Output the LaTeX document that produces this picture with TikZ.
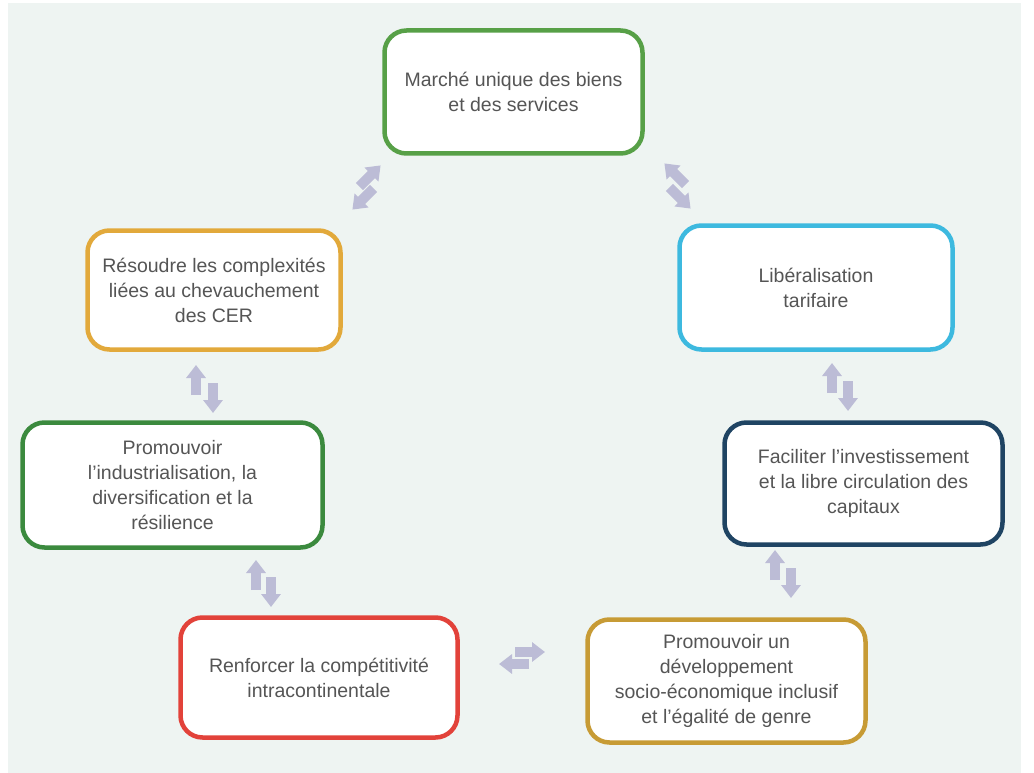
\documentclass[tikz,border=0pt]{standalone}
\usepackage{fontspec}
\setmainfont{Liberation Sans}
\usetikzlibrary{arrows.meta}

\definecolor{bgc}{HTML}{EEF4F2}
\definecolor{txt}{HTML}{555555}
\definecolor{arw}{HTML}{BCBCD6}
\definecolor{cgreen}{HTML}{57A047}
\definecolor{cgold}{HTML}{E2A93B}
\definecolor{ccyan}{HTML}{3DB9DF}
\definecolor{cdgreen}{HTML}{3B8A3E}
\definecolor{cnavy}{HTML}{1F4463}
\definecolor{cred}{HTML}{E2423A}
\definecolor{cbrown}{HTML}{C79B35}

\begin{document}
\begin{tikzpicture}[x=1pt,y=-1pt,
  box/.style={draw=#1, line width=4.5pt, rounded corners=22pt, fill=white,
    align=center, text=txt, inner sep=0pt,
    font=\fontsize{19.5}{25}\selectfont},
  blockarrow/.style={draw=arw, line width=10pt,
    -{Triangle[width=19pt,length=13pt]}}
]
\useasboundingbox (0,0) rectangle (1034,773);
\fill[bgc] (8,3) rectangle (1021,773);

% the seven objectives
\node[box=cgreen, minimum width=258pt, minimum height=123pt] (market) at (513.5,92)
  {Marché unique des biens\\et des services};
\node[box=cgold, minimum width=253pt, minimum height=119pt] (rec) at (214,290)
  {Résoudre les complexités\\liées au chevauchement\\des CER};
\node[box=ccyan, minimum width=273pt, minimum height=124pt] (tariff) at (816,287.5)
  {Libéralisation\\tarifaire};
\node[box=cdgreen, minimum width=300pt, minimum height=125pt] (industry) at (172.5,485)
  {Promouvoir\\l’industrialisation, la\\diversification et la\\résilience};
\node[box=cnavy, minimum width=278pt, minimum height=122pt] (invest) at (863.5,483.5)
  {Faciliter l’investissement\\et la libre circulation des\\capitaux};
\node[box=cred, minimum width=277pt, minimum height=120pt] (compet) at (319,677.5)
  {Renforcer la compétitivité\\intracontinentale};
\node[box=cbrown, minimum width=278pt, minimum height=123pt] (social) at (726.5,681)
  {Promouvoir un\\développement\\socio-économique inclusif\\et l’égalité de genre};

% end points of the two-way links
\coordinate (rm1a) at (359.4,186.6); \coordinate (rm1b) at (380.6,165.4);
\coordinate (rm2a) at (373.6,188.4); \coordinate (rm2b) at (352.4,209.6);
\coordinate (mt1a) at (685.6,184.6); \coordinate (mt1b) at (664.4,163.4);
\coordinate (mt2a) at (669.4,187.4); \coordinate (mt2b) at (690.6,208.6);
\coordinate (ri1a) at (196,395); \coordinate (ri1b) at (196,365);
\coordinate (ri2a) at (213,383); \coordinate (ri2b) at (213,413);
\coordinate (ic1a) at (256,590); \coordinate (ic1b) at (256,560);
\coordinate (ic2a) at (271,577); \coordinate (ic2b) at (271,607);
\coordinate (ti1a) at (832,393); \coordinate (ti1b) at (832,363);
\coordinate (ti2a) at (848,381); \coordinate (ti2b) at (848,411);
\coordinate (is1a) at (775,580); \coordinate (is1b) at (775,550);
\coordinate (is2a) at (791,568); \coordinate (is2b) at (791,598);
\coordinate (cs1a) at (515,652); \coordinate (cs1b) at (545,652);
\coordinate (cs2a) at (529,664); \coordinate (cs2b) at (499,664);

% two-way links between neighbouring objectives
\foreach \p in {rm1,rm2,mt1,mt2,ri1,ri2,ic1,ic2,ti1,ti2,is1,is2,cs1,cs2}
  \draw[blockarrow] (\p a) -- (\p b);
\end{tikzpicture}
\end{document}
